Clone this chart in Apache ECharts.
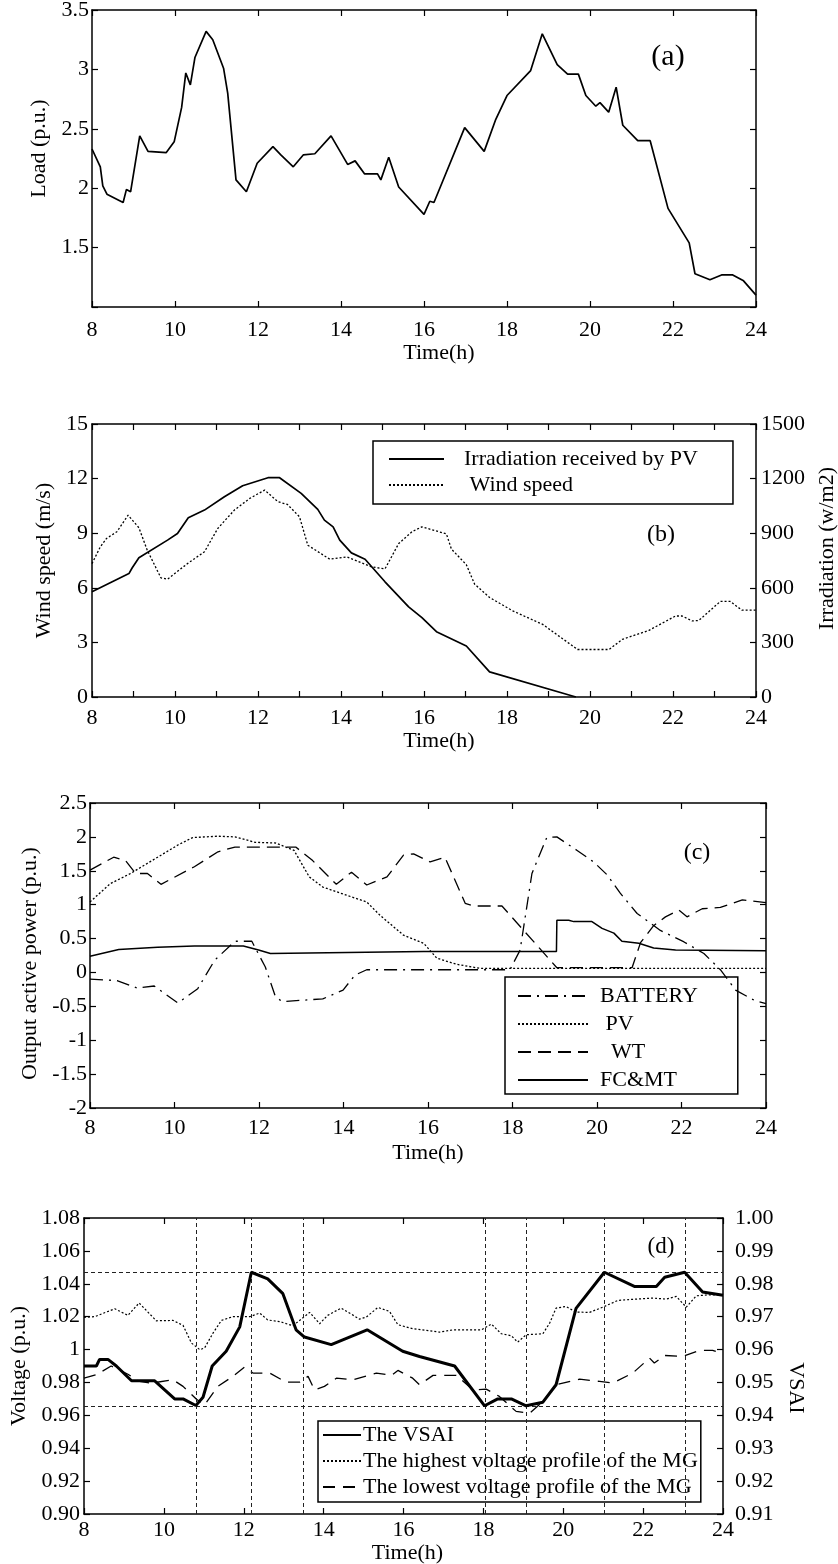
<!DOCTYPE html>
<html><head><meta charset="utf-8">
<script src="https://cdn.jsdelivr.net/npm/echarts@6/dist/echarts.min.js"></script>
<style>html,body{margin:0;padding:0;background:#fff}#c{width:838px;height:1564px}</style>
</head><body><div id="c"></div>
<script>
// ---------- (a) Load ----------
const loadTime = [8, 8.2, 8.26, 8.36, 8.75, 8.83, 8.93, 9.15, 9.35, 9.79, 9.98, 10.16, 10.26, 10.37, 10.48, 10.75, 10.91, 11.17, 11.27, 11.47, 11.72, 11.98, 12.36, 12.55, 12.85, 13.09, 13.37, 13.76, 14.16, 14.34, 14.57, 14.88, 14.96, 15.15, 15.39, 16.0, 16.14, 16.24, 16.98, 17.45, 17.73, 18.0, 18.57, 18.85, 19.21, 19.46, 19.72, 19.9, 20.14, 20.24, 20.45, 20.63, 20.79, 21.15, 21.45, 21.88, 22.39, 22.53, 22.89, 23.17, 23.44, 23.7, 24];
const loadValue = [2.33, 2.18, 2.02, 1.95, 1.88, 1.99, 1.97, 2.44, 2.31, 2.30, 2.39, 2.68, 2.97, 2.87, 3.10, 3.32, 3.25, 3.01, 2.80, 2.07, 1.97, 2.21, 2.35, 2.28, 2.18, 2.28, 2.29, 2.44, 2.20, 2.23, 2.12, 2.12, 2.07, 2.26, 2.01, 1.78, 1.89, 1.88, 2.51, 2.31, 2.58, 2.78, 2.99, 3.30, 3.04, 2.96, 2.96, 2.78, 2.69, 2.72, 2.64, 2.85, 2.53, 2.40, 2.40, 1.83, 1.54, 1.28, 1.23, 1.27, 1.27, 1.22, 1.10];

// ---------- (b) Irradiation & wind ----------
const irrTime = [8, 8.89, 8.97, 9.13, 9.82, 10.06, 10.32, 10.71, 11.19, 11.63, 12.24, 12.52, 13.04, 13.44, 13.6, 13.81, 13.97, 14.25, 14.58, 15.06, 15.63, 15.95, 16.3, 17.02, 17.58, 19.66];
const irrValue = [578, 678, 710, 765, 862, 898, 985, 1027, 1100, 1161, 1205, 1205, 1119, 1031, 972, 935, 862, 792, 757, 633, 495, 436, 359, 280, 138, 0];
const windTime = [8, 8.2, 8.35, 8.6, 8.87, 9.13, 9.33, 9.66, 9.82, 10.3, 10.71, 11.03, 11.43, 11.8, 12.16, 12.48, 12.71, 13.0, 13.2, 13.73, 14.14, 14.74, 15.06, 15.39, 15.71, 15.95, 16.54, 16.66, 17.02, 17.22, 17.58, 18.14, 18.86, 19.42, 19.7, 20.46, 20.78, 21.42, 22.06, 22.22, 22.46, 22.62, 23.14, 23.38, 23.66, 24];
const windValue = [7.33, 8.25, 8.71, 9.08, 9.99, 9.30, 8.07, 6.55, 6.47, 7.33, 7.98, 9.26, 10.27, 10.91, 11.37, 10.73, 10.58, 9.90, 8.34, 7.57, 7.70, 7.15, 7.04, 8.43, 9.08, 9.35, 8.96, 8.13, 7.27, 6.20, 5.47, 4.73, 3.99, 3.07, 2.61, 2.61, 3.17, 3.66, 4.45, 4.45, 4.18, 4.20, 5.25, 5.25, 4.77, 4.77];

// ---------- (c) Output active power ----------
const batTime = [8, 8.64, 9.12, 9.52, 10.08, 10.55, 10.95, 11.43, 11.83, 12.15, 12.39, 12.55, 13.51, 13.99, 14.27, 14.55, 17.94, 18.18, 18.46, 18.81, 19.05, 19.53, 19.92, 20.24, 20.55, 20.95, 21.5, 22.06, 22.53, 22.92, 23.28, 23.72, 24];
const batValue = [-0.10, -0.12, -0.23, -0.20, -0.45, -0.24, 0.18, 0.46, 0.46, 0.08, -0.36, -0.43, -0.39, -0.26, -0.04, 0.04, 0.04, 0.33, 1.46, 1.99, 2.00, 1.80, 1.63, 1.44, 1.17, 0.87, 0.62, 0.45, 0.28, 0.04, -0.26, -0.41, -0.46];
const pvTime = [8, 8.48, 8.96, 9.6, 10.08, 10.43, 11.03, 11.43, 11.91, 12.39, 12.83, 13.19, 13.51, 14.07, 14.55, 14.87, 15.42, 15.9, 16.21, 16.68, 17.23, 24];
const pvValue = [1.04, 1.31, 1.46, 1.70, 1.88, 1.99, 2.01, 2.00, 1.92, 1.91, 1.80, 1.41, 1.26, 1.14, 1.04, 0.84, 0.55, 0.43, 0.21, 0.12, 0.06, 0.06];
const wtTime = [8, 8.56, 8.84, 9.08, 9.36, 9.68, 10.47, 11.03, 11.43, 12.87, 13.27, 13.83, 14.19, 14.55, 15.03, 15.42, 15.66, 16.05, 16.4, 16.88, 17.08, 17.75, 19.05, 20.83, 21.03, 21.34, 21.62, 21.94, 22.13, 22.49, 22.92, 23.44, 24];
const wtValue = [1.51, 1.70, 1.65, 1.46, 1.46, 1.30, 1.56, 1.78, 1.85, 1.85, 1.65, 1.30, 1.48, 1.29, 1.41, 1.73, 1.75, 1.63, 1.70, 1.02, 0.98, 0.98, 0.07, 0.07, 0.44, 0.69, 0.82, 0.92, 0.82, 0.94, 0.96, 1.07, 1.03];
const fcTime = [8, 8.68, 9.6, 10.47, 11.63, 11.99, 12.27, 15.9, 17.0, 19.04, 19.05, 19.33, 19.45, 19.88, 20.12, 20.4, 20.59, 20.99, 21.34, 21.86, 24];
const fcValue = [0.24, 0.34, 0.37, 0.39, 0.39, 0.33, 0.28, 0.31, 0.31, 0.31, 0.77, 0.77, 0.75, 0.75, 0.65, 0.58, 0.46, 0.43, 0.36, 0.33, 0.32];

// ---------- (d) Voltage & VSAI ----------
const vsaiTime = [8, 8.31, 8.39, 8.6, 8.81, 9.19, 9.77, 10.27, 10.48, 10.8, 10.98, 11.21, 11.56, 11.9, 12.19, 12.6, 12.98, 13.31, 13.52, 14.19, 15.09, 15.98, 16.4, 17.28, 18.03, 18.36, 18.7, 19.07, 19.49, 19.82, 20.32, 21.03, 21.78, 22.33, 22.54, 23.04, 23.49, 24];
const vsaiValue = [0.955, 0.955, 0.957, 0.957, 0.955, 0.9505, 0.9505, 0.945, 0.945, 0.943, 0.9455, 0.955, 0.9595, 0.9669, 0.9835, 0.9815, 0.977, 0.966, 0.9638, 0.9615, 0.966, 0.9595, 0.9579, 0.955, 0.9429, 0.945, 0.945, 0.9429, 0.944, 0.9493, 0.9725, 0.9835, 0.9792, 0.9792, 0.982, 0.9835, 0.9775, 0.9765];
const highTime = [8, 8.27, 8.77, 9.1, 9.38, 9.81, 10.23, 10.48, 10.69, 10.9, 11.02, 11.23, 11.44, 11.73, 12.15, 12.4, 12.6, 12.9, 13.23, 13.65, 13.9, 14.1, 14.44, 14.9, 15.07, 15.36, 15.65, 15.86, 16.23, 16.9, 17.24, 17.95, 18.2, 18.45, 18.7, 18.86, 19.07, 19.49, 19.66, 19.82, 20.07, 20.32, 20.66, 21.03, 21.37, 21.83, 22.24, 22.58, 22.83, 23.08, 23.33, 23.66, 24];
const highValue = [1.0196, 1.020, 1.0248, 1.0208, 1.0283, 1.0175, 1.0177, 1.0147, 1.004, 0.9999, 1.001, 1.010, 1.0177, 1.020, 1.020, 1.0222, 1.018, 1.017, 1.0145, 1.0226, 1.0157, 1.0208, 1.0252, 1.0185, 1.0198, 1.0256, 1.0232, 1.0151, 1.0127, 1.0106, 1.012, 1.012, 1.0155, 1.0096, 1.0084, 1.0045, 1.009, 1.0096, 1.0161, 1.0252, 1.0262, 1.0228, 1.0226, 1.0262, 1.0299, 1.0307, 1.0313, 1.0307, 1.0323, 1.0258, 1.0327, 1.0333, 1.0333];
const lowTime = [8, 8.31, 8.68, 9.1, 9.39, 9.69, 10.23, 10.48, 10.81, 11.02, 11.35, 11.73, 12.02, 12.23, 12.65, 13.06, 13.4, 13.61, 13.77, 14.02, 14.32, 14.73, 15.32, 15.7, 15.86, 16.23, 16.4, 16.74, 17.32, 17.74, 18.07, 18.4, 18.82, 19.16, 19.49, 19.82, 20.41, 20.91, 21.24, 21.74, 22.16, 22.28, 22.54, 22.99, 23.41, 23.74, 24];
const lowValue = [0.9826, 0.9847, 0.990, 0.985, 0.9806, 0.9796, 0.9816, 0.9776, 0.9699, 0.9664, 0.9776, 0.9837, 0.9893, 0.9857, 0.9857, 0.9802, 0.9802, 0.9837, 0.9755, 0.9776, 0.9826, 0.9816, 0.9857, 0.9843, 0.9873, 0.9826, 0.9786, 0.9843, 0.9843, 0.9755, 0.9759, 0.9715, 0.9624, 0.9613, 0.9684, 0.9786, 0.982, 0.9806, 0.9796, 0.9857, 0.9948, 0.9918, 0.9964, 0.9958, 0.9995, 0.9995, 0.9974];
const refTimes = [10.8, 12.2, 13.5, 18.05, 19.07, 21.03, 23.05];
const refVsai = [0.9835, 0.9429];

const FONT = 'Liberation Serif';
const txt = {color: '#000', fontFamily: FONT, fontSize: 22};
const zip = (a, b) => a.map((t, i) => [t, b[i]]);

function xAx(gi, o) {
  const top = !!o.top;
  return {
    type: 'value', gridIndex: gi, min: 8, max: 24, interval: o.interval || 2,
    position: top ? 'top' : 'bottom',
    axisLine: {onZero: false, lineStyle: {color: '#000', width: 1.5}},
    axisTick: {inside: true, length: 6, lineStyle: {color: '#000', width: 1.2}},
    axisLabel: top ? {show: false} : Object.assign({}, txt, {margin: o.margin, formatter: v => (v % 2 === 0 ? String(v) : '')}),
    splitLine: {show: false},
    name: top ? '' : 'Time(h)', nameLocation: 'middle', nameGap: o.nameGap || 30,
    nameTextStyle: Object.assign({}, txt, {padding: o.namePad || 0})
  };
}
function yAx(gi, o) {
  return {
    type: 'value', gridIndex: gi, min: o.min, max: o.max, interval: o.interval,
    position: o.position,
    axisLine: {onZero: false, lineStyle: {color: '#000', width: 1.5}},
    axisTick: {inside: true, length: 6, lineStyle: {color: '#000', width: 1.2}},
    axisLabel: o.noLabel ? {show: false} : Object.assign({}, txt, {margin: o.margin, formatter: o.formatter || (v => String(v))}),
    splitLine: {show: false},
    name: o.name || '', nameLocation: 'middle', nameGap: o.nameGap || 30,
    nameRotate: o.nameRotate,
    nameTextStyle: Object.assign({}, txt, {padding: o.namePad || 0})
  };
}
const line = (name, xi, yi, t, v, w, type, z) => ({
  type: 'line', name, xAxisIndex: xi, yAxisIndex: yi, data: zip(t, v),
  symbol: 'none', showSymbol: false, z: z || 2, silent: true,
  lineStyle: {color: '#000', width: w, type: type || 'solid'}, itemStyle: {color: '#000'}
});

const vsaiSeries = line('The VSAI', 6, 7, vsaiTime, vsaiValue, 3, 'solid', 5);
vsaiSeries.markLine = {
  silent: true, symbol: ['none', 'none'], label: {show: false}, precision: 5,
  lineStyle: {color: '#222', width: 1, type: [4, 3]},
  data: refTimes.map(t => ({xAxis: t})).concat(refVsai.map(v => ({yAxis: v})))
};

const legendBase = {
  orient: 'vertical', borderColor: '#000', borderWidth: 1.5, selectedMode: false,
  itemHeight: 14, itemStyle: {opacity: 0}, inactiveColor: '#000'
};
const gridBase = {outerBoundsMode: 'none', containLabel: false};

const option = {
  animation: false,
  backgroundColor: '#fff',
  grid: [
    Object.assign({left: 92, top: 10, width: 664, height: 297}, gridBase),
    Object.assign({left: 92, top: 424, width: 664, height: 273}, gridBase),
    Object.assign({left: 90, top: 803, width: 676, height: 305}, gridBase),
    Object.assign({left: 84, top: 1218, width: 639, height: 296}, gridBase)
  ],
  xAxis: [
    xAx(0, {margin: 12, nameGap: 34, namePad: [0, 0, 0, 30]}), xAx(0, {top: true}),
    xAx(1, {interval: 1, margin: 10, nameGap: 32, namePad: [0, 0, 0, 30]}), xAx(1, {top: true, interval: 1}),
    xAx(2, {margin: 9, nameGap: 34}), xAx(2, {top: true}),
    xAx(3, {margin: 5, nameGap: 26, namePad: [0, 0, 0, 8]}), xAx(3, {top: true})
  ],
  yAxis: [
    yAx(0, {position: 'left', min: 1, max: 3.5, interval: 0.5, margin: 3, name: 'Load (p.u.)', nameGap: 31, namePad: [0, 0, 0, 20],
      formatter: v => (v === 1 ? '' : String(v))}),
    yAx(0, {position: 'right', min: 1, max: 3.5, interval: 0.5, noLabel: true}),
    yAx(1, {position: 'left', min: 0, max: 15, interval: 3, margin: 4, name: 'Wind speed (m/s)', nameGap: 20}),
    yAx(1, {position: 'right', min: 0, max: 1500, interval: 300, margin: 5, name: 'Irradiation (w/m2)', nameGap: 60, nameRotate: 90, namePad: [0, 0, 0, 24]}),
    yAx(2, {position: 'left', min: -2, max: 2.5, interval: 0.5, margin: 3, name: 'Output active power (p.u.)', nameGap: 40, namePad: [0, 16, 0, 0]}),
    yAx(2, {position: 'right', min: -2, max: 2.5, interval: 0.5, noLabel: true}),
    yAx(3, {position: 'left', min: 0.9, max: 1.08, interval: 0.02, margin: 4, name: 'Voltage (p.u.)', nameGap: 47,
      formatter: v => (Math.abs(v - 0.9) < 1e-6 ? '0.90' : String(+v.toFixed(2)))}),
    yAx(3, {position: 'right', min: 0.91, max: 1.0, interval: 0.01, margin: 12, name: 'VSAI', nameGap: 54, nameRotate: -90, namePad: [0, 0, 0, 44],
      formatter: v => v.toFixed(2)})
  ],
  legend: [
    Object.assign({}, legendBase, {
      data: ['Irradiation received by PV', 'Wind speed'], left: 373, top: 441,
      itemWidth: 55, itemGap: 4, padding: [7, 35, 8, 15],
      textStyle: Object.assign({}, txt, {padding: [0, 0, 0, 15]}),
      formatter: n => (n === 'Wind speed' ? ' Wind speed' : n)
    }),
    Object.assign({}, legendBase, {
      data: ['BATTERY', 'PV', 'WT', 'FC&MT'], left: 505, top: 977,
      itemWidth: 70, itemGap: 6, padding: [8, 40, 3, 12],
      textStyle: Object.assign({}, txt, {padding: [0, 0, 0, 7]}),
      formatter: n => (n === 'PV' ? ' PV' : n === 'WT' ? '  WT' : n)
    }),
    Object.assign({}, legendBase, {
      data: ['The VSAI', 'The highest voltage profile of the MG', 'The lowest voltage profile of the MG'], left: 318, top: 1421,
      itemWidth: 38, itemGap: 4, padding: [3, 3, 4, 4],
      textStyle: Object.assign({}, txt, {padding: [0, 0, 0, -3]})
    })
  ],
  graphic: [
    {type: 'text', x: 668, y: 57, style: {text: '(a)', font: '30px "Liberation Serif"', fill: '#000', align: 'center', verticalAlign: 'middle'}},
    {type: 'text', x: 661, y: 535, style: {text: '(b)', font: '24px "Liberation Serif"', fill: '#000', align: 'center', verticalAlign: 'middle'}},
    {type: 'text', x: 697, y: 853, style: {text: '(c)', font: '24px "Liberation Serif"', fill: '#000', align: 'center', verticalAlign: 'middle'}},
    {type: 'text', x: 661, y: 1247, style: {text: '(d)', font: '23px "Liberation Serif"', fill: '#000', align: 'center', verticalAlign: 'middle'}}
  ],
  series: [
    line('Load', 0, 0, loadTime, loadValue, 1.7),
    line('Irradiation received by PV', 2, 3, irrTime, irrValue, 1.7),
    line('Wind speed', 2, 2, windTime, windValue, 1.3, [2, 2]),
    line('BATTERY', 4, 4, batTime, batValue, 1.3, [13, 6, 2, 6]),
    line('PV', 4, 4, pvTime, pvValue, 1.3, [2, 2]),
    line('WT', 4, 4, wtTime, wtValue, 1.3, [13, 7]),
    line('FC&MT', 4, 4, fcTime, fcValue, 1.5),
    line('The highest voltage profile of the MG', 6, 6, highTime, highValue, 1.2, [2, 2]),
    line('The lowest voltage profile of the MG', 6, 6, lowTime, lowValue, 1.3, [12, 8]),
    vsaiSeries
  ]
};
const chart = echarts.init(document.getElementById('c'), null, {renderer: 'canvas'});
chart.setOption(option);
</script>
</body></html>
